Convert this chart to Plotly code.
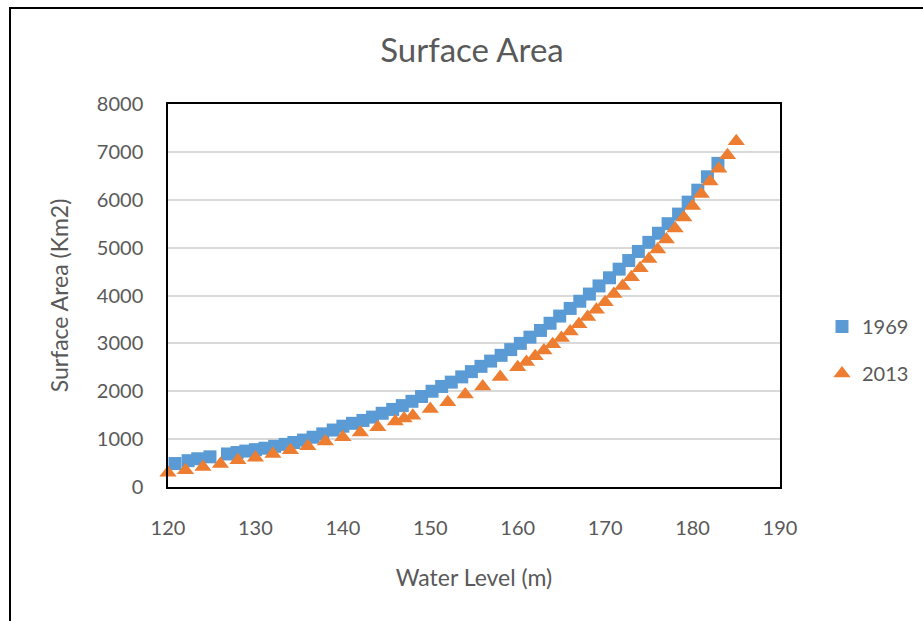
import plotly.graph_objects as go

# 1969 survey
level_1969 = [120.8, 122.3, 123.4, 124.8, 126.8, 127.9, 128.9, 130.0, 131.1, 132.2, 133.4, 134.4,
              135.5, 136.6, 137.7, 138.9, 140.0, 141.1, 142.3, 143.4, 144.5, 145.7, 146.8, 147.9,
              149.0, 150.2, 151.3, 152.4, 153.6, 154.7, 155.8, 156.9, 158.1, 159.2, 160.3, 161.4,
              162.6, 163.7, 164.8, 166.0, 167.1, 168.2, 169.3, 170.5, 171.6, 172.7, 173.8, 175.0,
              176.1, 177.2, 178.4, 179.5, 180.6, 181.7, 182.9]
area_1969 = [490, 550, 590, 630, 690, 720, 750, 780, 810, 850, 890, 930,
             980, 1040, 1110, 1190, 1270, 1330, 1390, 1460, 1540, 1620, 1700, 1790,
             1890, 2000, 2100, 2190, 2300, 2410, 2520, 2630, 2750, 2870, 3000, 3130,
             3270, 3420, 3570, 3730, 3880, 4030, 4200, 4370, 4550, 4730, 4920, 5110,
             5300, 5500, 5700, 5950, 6200, 6480, 6760]

# 2013 survey
level_2013 = [120, 122, 124, 126, 128, 130, 132, 134, 136, 138, 140, 142, 144, 146, 147, 148,
              150, 152, 154, 156, 158, 160, 161, 162, 163, 164, 165, 166, 167, 168, 169, 170,
              171, 172, 173, 174, 175, 176, 177, 178, 179, 180, 181, 182, 183, 184, 185]
area_2013 = [300, 350, 420, 480, 560, 610, 690, 770, 850, 950, 1040, 1140, 1250, 1370, 1430, 1490,
             1630, 1770, 1930, 2100, 2300, 2500, 2610, 2730, 2850, 2980, 3110, 3250, 3400, 3550, 3700, 3860,
             4030, 4200, 4380, 4570, 4760, 4960, 5170, 5400, 5630, 5870, 6120, 6380, 6650, 6930, 7220]

x_ticks = [120, 130, 140, 150, 160, 170, 180, 190]
y_ticks = [0, 1000, 2000, 3000, 4000, 5000, 6000, 7000, 8000]

FONT = "Lato, Open Sans, sans-serif"
GRAY = "#595959"

fig = go.Figure()
fig.add_trace(go.Scatter(x=level_1969, y=area_1969, mode="markers", name="1969",
                         legendgroup="a",
                         marker=dict(symbol="square", size=13, color="#5B9BD5", line=dict(width=0)),
                         cliponaxis=False))
fig.add_trace(go.Scatter(x=level_2013, y=area_2013, mode="markers", name="2013",
                         legendgroup="b",
                         marker=dict(symbol="triangle-up", size=15, color="#ED7D31", line=dict(width=0)),
                         cliponaxis=False))

W, H = 923, 621
L, R, T, B = 168, 143, 104, 134
pw, ph = W - L - R, H - T - B


def px_x(p):
    return (p - L) / pw


def px_y(p):
    return (H - B - p) / ph


fig.update_layout(
    width=W, height=H,
    margin=dict(l=L, r=R, t=T, b=B, autoexpand=False),
    paper_bgcolor="white", plot_bgcolor="white",
    font=dict(family=FONT, color=GRAY, size=20),
    title=dict(text="Surface Area", x=472 / W, xanchor="center", y=1 - 50 / H, yanchor="middle",
               font=dict(size=33, color=GRAY, family=FONT)),
    xaxis=dict(range=[120, 190], tickvals=x_ticks, showgrid=False, zeroline=False,
               showline=True, linecolor="black", linewidth=1.5, mirror=True,
               ticks="outside", ticklen=22, tickcolor="rgba(0,0,0,0)",
               tickfont=dict(size=20, color=GRAY),
               title=dict(text="Water Level (m)", font=dict(size=23, color=GRAY), standoff=32)),
    yaxis=dict(range=[0, 8000], tickvals=y_ticks, showgrid=True, gridcolor="#d9d9d9", gridwidth=1.5,
               zeroline=False, showline=True, linecolor="black", linewidth=1.5, mirror=True,
               ticks="outside", ticklen=19, tickcolor="rgba(0,0,0,0)",
               tickfont=dict(size=20, color=GRAY),
               title=dict(text="Surface Area (Km2)", font=dict(size=23, color=GRAY), standoff=22)),
    legend=dict(x=px_x(822), y=px_y(350), xanchor="left", yanchor="middle",
                traceorder="grouped", tracegroupgap=18,
                font=dict(size=20, color=GRAY), bgcolor="rgba(0,0,0,0)",
                itemwidth=30),
    showlegend=True,
)

# outer chart border
fig.add_shape(type="rect", xref="paper", yref="paper",
              x0=px_x(10), x1=px_x(930), y0=px_y(630), y1=px_y(8),
              line=dict(color="black", width=2), fillcolor="rgba(0,0,0,0)", layer="above")

fig.write_html("out.html")
